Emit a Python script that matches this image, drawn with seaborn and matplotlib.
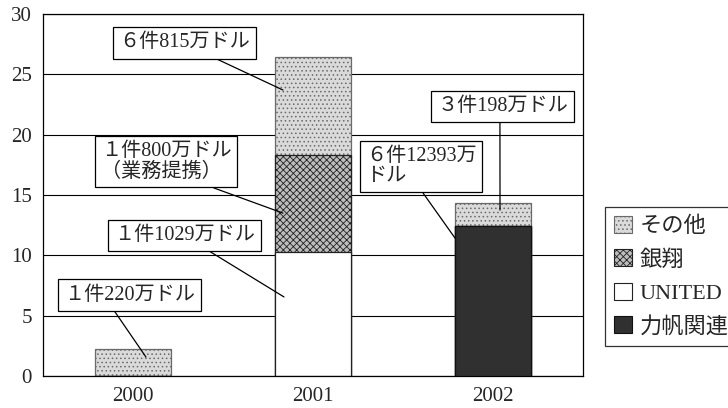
import matplotlib
matplotlib.use("Agg")
import matplotlib.pyplot as plt
from matplotlib.patches import Patch
import seaborn as sns
import numpy as np

# ---- data (million US$) ----
years = ["2000", "2001", "2002"]
series_names = ["力帆関連", "UNITED", "銀翔", "その他"]   # bottom -> top
rifan = [0.0, 0.0, 12.393]
united = [0.0, 10.29, 0.0]
yinxiang = [0.0, 8.00, 0.0]
other = [2.20, 8.15, 1.98]
y_ticks = [0, 5, 10, 15, 20, 25, 30]

# annotations
ann_texts = ["６件815万ドル", "１件800万ドル\n（業務提携）", "１件1029万ドル",
             "１件220万ドル", "６件12393万\nドル", "３件198万ドル"]

sns.set_style("white")
plt.rcParams["font.family"] = ["Liberation Serif", "Noto Sans CJK JP", "DejaVu Sans"]
plt.rcParams["hatch.linewidth"] = 0.6

fig = plt.figure(figsize=(7.28, 4.08), dpi=100)
ax = fig.add_axes([43/728, 1-376/408, 540/728, 362/408])

styles = {
    "その他": dict(color="#dadada", hatch="....", edgecolor="#6a6a6a"),
    "銀翔": dict(color="#bdbdbd", hatch="xxxxx", edgecolor="#222222"),
    "UNITED": dict(color="white", hatch=None, edgecolor="#222222"),
    "力帆関連": dict(color="#303030", hatch=None, edgecolor="#111111"),
}

stack = [np.array(rifan), np.array(united), np.array(yinxiang), np.array(other)]
cums = np.cumsum(stack, axis=0)
for i in range(len(series_names) - 1, -1, -1):
    name = series_names[i]
    st = styles[name]
    sns.barplot(x=years, y=cums[i], color=st["color"], hatch=st["hatch"],
                edgecolor=st["edgecolor"], linewidth=0.9, width=0.42,
                errorbar=None, ax=ax, zorder=3, saturation=1)

ax.set_xlim(-0.5, 2.5)
ax.set_ylim(0, 30)
ax.set_yticks(y_ticks)
ax.set_yticklabels([str(t) for t in y_ticks], fontsize=15)
ax.set_xticks([0, 1, 2])
ax.set_xticklabels(years, fontsize=15)
ax.tick_params(axis="both", length=0, pad=8)
ax.set_xticks([0.5, 1.5], minor=True)
ax.tick_params(axis="x", which="minor", direction="in", length=7, width=0.9, color="black")
ax.set_xlabel("")
ax.set_ylabel("")
ax.yaxis.grid(True, color="black", linewidth=0.8)
ax.set_axisbelow(True)
for s in ax.spines.values():
    s.set_visible(True)
    s.set_color("black")
    s.set_linewidth(0.9)

text_pos = [(0.286, 27.6), (0.183, 17.77), (0.286, 11.68),
            (-0.019, 6.71), (1.60, 17.36), (2.053, 22.33)]
targets = [(0.833, 23.7), (0.833, 13.5), (0.839, 6.55),
           (0.072, 1.57), (1.789, 11.43), (2.039, 13.75)]
relx = [0.64, 0.73, 0.60, 0.35, 0.475, 0.48]
for t, p, tg, rx in zip(ann_texts, text_pos, targets, relx):
    ax.annotate(t, xy=tg, xytext=p, textcoords="data", xycoords="data",
                ha="center", va="center", multialignment="left", fontsize=14.5,
                linespacing=1.1,
                bbox=dict(boxstyle="square,pad=0.3", fc="white", ec="black", lw=0.9),
                arrowprops=dict(arrowstyle="-", color="black", lw=0.9,
                                relpos=(rx, 0), shrinkA=0, shrinkB=0),
                zorder=5)

handles = [Patch(facecolor=styles[n]["color"], hatch=styles[n]["hatch"],
                 edgecolor=styles[n]["edgecolor"], linewidth=0.8, label=n)
           for n in ["その他", "銀翔", "UNITED", "力帆関連"]]
leg = fig.legend(handles=handles, loc="upper left",
                 bbox_to_anchor=(605/728, 1-207/408), fontsize=16,
                 frameon=True, fancybox=False, edgecolor="black",
                 handlelength=0.8, handleheight=0.8, handletextpad=0.35,
                 labelspacing=0.55, borderpad=0.4, borderaxespad=0)
leg.get_frame().set_linewidth(0.9)

fig.savefig("out.png", dpi=100)
